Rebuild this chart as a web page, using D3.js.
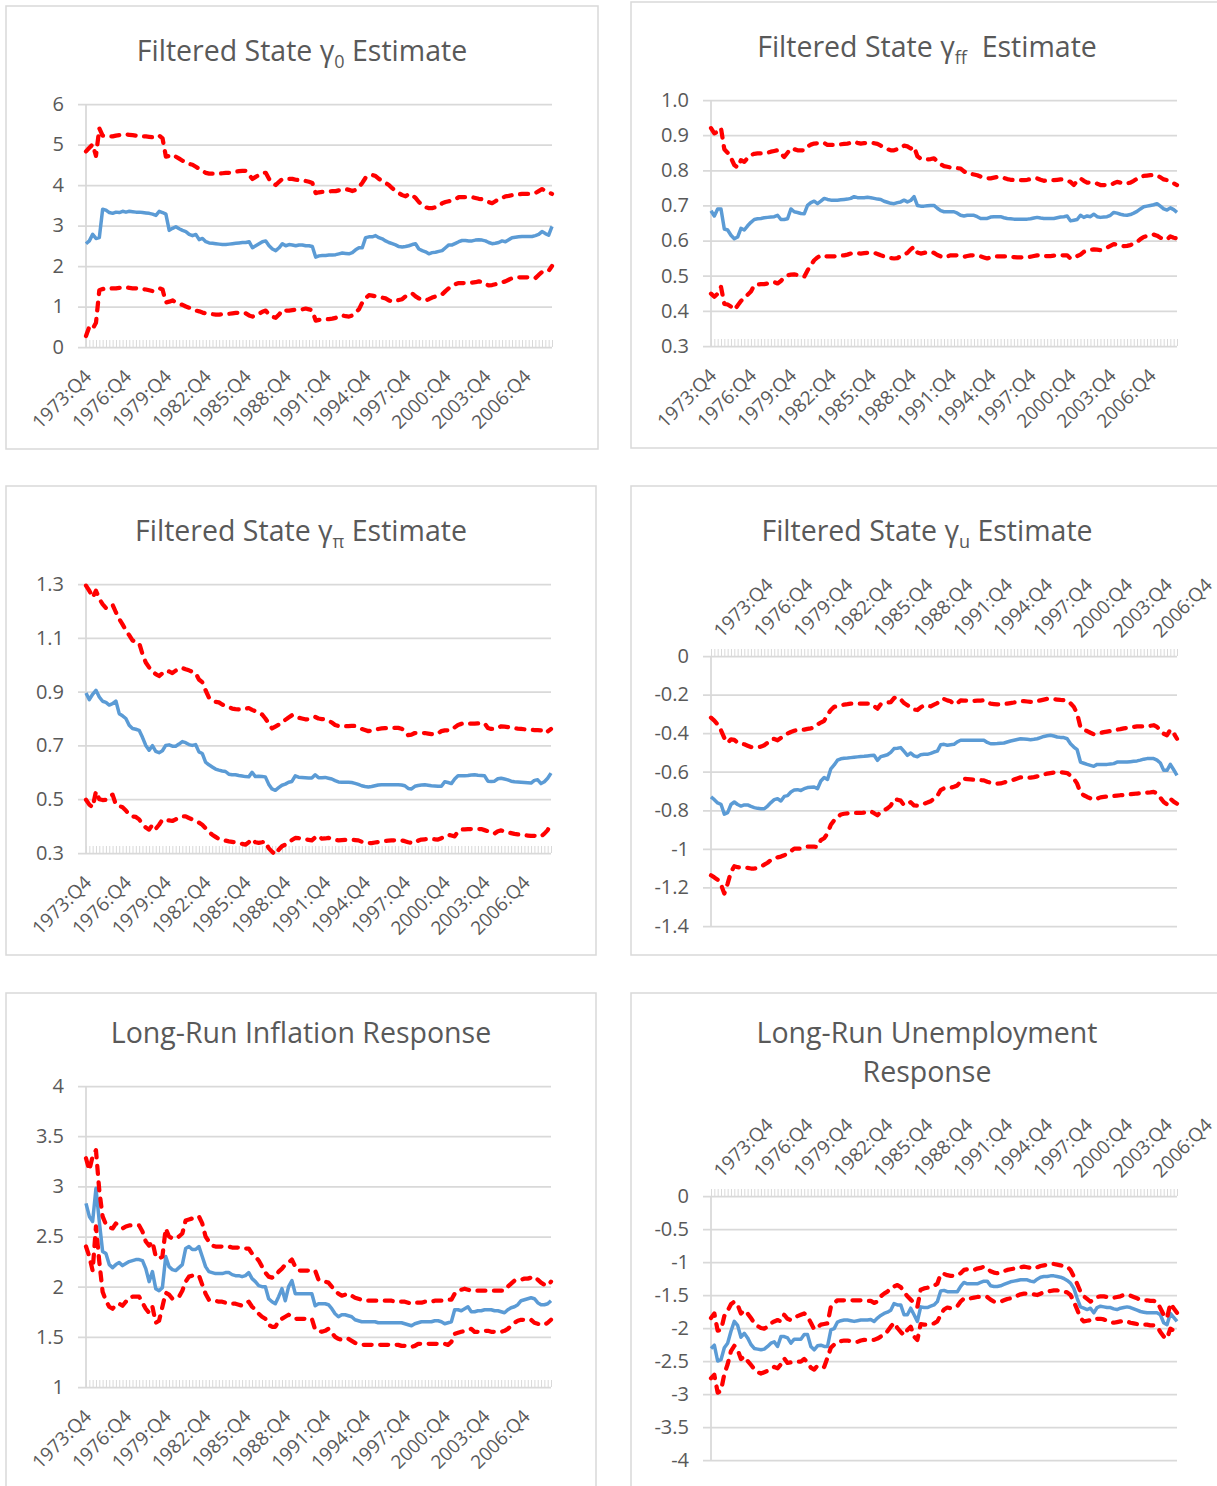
<!DOCTYPE html>
<html>
<head>
<meta charset="utf-8">
<script src="https://cdn.jsdelivr.net/npm/d3@7"></script>
<style>
	body { margin: 0; background: #fff; }
	svg { display: block; }
	text { font-family: "Open Sans", "Noto Sans", sans-serif; fill: #595959; }
</style>
</head>
<body>
<div id="canvas"></div>
<script>
// quarterly categories 1973:Q4 .. 2008:Q4 (141 points), label every 12th quarter
const N = 141;
const xTickLabels = ["1973:Q4","1976:Q4","1979:Q4","1982:Q4","1985:Q4","1988:Q4","1991:Q4","1994:Q4","1997:Q4","2000:Q4","2003:Q4","2006:Q4"];

// gamma_0
const g0Mid = [2.55,2.62,2.78,2.68,2.70,3.40,3.38,3.32,3.30,3.33,3.32,3.35,3.33,3.35,3.34,3.33,3.33,3.32,3.31,3.30,3.28,3.25,3.35,3.32,3.28,2.88,2.93,2.97,2.92,2.88,2.85,2.78,2.75,2.78,2.65,2.68,2.60,2.57,2.56,2.55,2.54,2.53,2.53,2.54,2.55,2.56,2.57,2.58,2.58,2.60,2.45,2.50,2.55,2.60,2.62,2.50,2.42,2.38,2.45,2.55,2.50,2.53,2.52,2.50,2.52,2.52,2.50,2.50,2.48,2.22,2.25,2.26,2.26,2.27,2.27,2.28,2.30,2.32,2.31,2.30,2.33,2.40,2.45,2.45,2.70,2.72,2.72,2.75,2.70,2.67,2.62,2.58,2.55,2.52,2.48,2.47,2.48,2.50,2.53,2.55,2.42,2.38,2.35,2.30,2.33,2.34,2.36,2.38,2.45,2.52,2.52,2.56,2.60,2.63,2.63,2.62,2.62,2.64,2.65,2.64,2.62,2.58,2.55,2.56,2.58,2.62,2.60,2.65,2.70,2.71,2.72,2.73,2.73,2.73,2.73,2.75,2.78,2.85,2.80,2.76,2.98];
const g0Hi = [4.83,4.92,5.00,4.72,5.40,5.22,5.20,5.20,5.20,5.22,5.23,5.25,5.25,5.24,5.23,5.22,5.22,5.20,5.20,5.19,5.18,5.18,5.22,5.15,4.70,4.72,4.75,4.70,4.65,4.60,4.55,4.52,4.50,4.45,4.40,4.35,4.30,4.28,4.28,4.28,4.28,4.29,4.30,4.30,4.32,4.33,4.34,4.35,4.35,4.25,4.15,4.20,4.25,4.30,4.30,4.15,4.05,4.00,4.08,4.15,4.15,4.15,4.15,4.13,4.12,4.12,4.10,4.08,4.05,3.80,3.82,3.83,3.83,3.84,3.85,3.85,3.87,3.88,3.90,3.88,3.85,3.88,3.95,4.05,4.18,4.22,4.25,4.22,4.15,4.10,4.05,4.00,3.92,3.85,3.80,3.75,3.72,3.78,3.75,3.68,3.58,3.50,3.45,3.43,3.43,3.45,3.48,3.55,3.58,3.60,3.62,3.65,3.70,3.70,3.70,3.70,3.70,3.68,3.66,3.65,3.62,3.58,3.55,3.60,3.65,3.68,3.72,3.73,3.75,3.76,3.77,3.78,3.78,3.78,3.79,3.80,3.85,3.90,3.85,3.82,3.78];
const g0Lo = [0.27,0.50,0.45,0.60,1.40,1.43,1.45,1.44,1.45,1.45,1.46,1.47,1.47,1.46,1.45,1.45,1.44,1.43,1.42,1.40,1.38,1.42,1.45,1.42,1.10,1.12,1.15,1.10,1.06,1.04,1.00,0.97,0.93,0.90,0.88,0.85,0.83,0.82,0.81,0.80,0.80,0.81,0.81,0.82,0.83,0.84,0.85,0.85,0.83,0.78,0.75,0.80,0.82,0.87,0.90,0.80,0.75,0.72,0.80,0.92,0.90,0.90,0.91,0.92,0.92,0.93,0.95,0.93,0.90,0.65,0.67,0.68,0.68,0.69,0.70,0.72,0.76,0.78,0.76,0.75,0.78,0.85,0.93,1.10,1.20,1.28,1.27,1.25,1.24,1.22,1.20,1.15,1.12,1.14,1.16,1.18,1.25,1.30,1.32,1.25,1.20,1.18,1.15,1.18,1.22,1.25,1.28,1.30,1.38,1.45,1.50,1.55,1.58,1.58,1.58,1.58,1.59,1.60,1.62,1.60,1.55,1.52,1.53,1.55,1.57,1.60,1.62,1.66,1.70,1.71,1.72,1.72,1.72,1.72,1.71,1.70,1.78,1.85,1.85,1.88,2.00];

// gamma_ff
const gffMid = [0.685,0.670,0.690,0.690,0.633,0.630,0.615,0.605,0.610,0.635,0.630,0.642,0.652,0.660,0.662,0.663,0.665,0.666,0.667,0.668,0.672,0.660,0.660,0.662,0.690,0.682,0.680,0.677,0.676,0.700,0.708,0.712,0.705,0.712,0.720,0.717,0.715,0.715,0.715,0.716,0.717,0.718,0.720,0.725,0.722,0.722,0.722,0.723,0.722,0.720,0.718,0.717,0.712,0.709,0.706,0.705,0.708,0.710,0.715,0.710,0.714,0.725,0.700,0.698,0.698,0.699,0.700,0.700,0.692,0.685,0.682,0.682,0.682,0.682,0.678,0.672,0.670,0.672,0.672,0.672,0.668,0.663,0.663,0.663,0.667,0.668,0.668,0.668,0.665,0.663,0.662,0.661,0.661,0.661,0.661,0.661,0.662,0.664,0.666,0.664,0.663,0.663,0.663,0.663,0.665,0.667,0.668,0.670,0.656,0.658,0.660,0.672,0.666,0.670,0.668,0.675,0.668,0.666,0.667,0.668,0.672,0.680,0.678,0.675,0.673,0.672,0.674,0.678,0.683,0.690,0.696,0.698,0.700,0.702,0.705,0.698,0.690,0.687,0.693,0.688,0.680];
const gffHi = [0.920,0.905,0.910,0.920,0.860,0.850,0.835,0.815,0.808,0.829,0.824,0.835,0.843,0.847,0.848,0.848,0.848,0.850,0.853,0.855,0.857,0.848,0.838,0.850,0.862,0.860,0.857,0.857,0.857,0.868,0.873,0.876,0.877,0.878,0.878,0.872,0.872,0.872,0.873,0.874,0.875,0.876,0.878,0.881,0.878,0.876,0.877,0.878,0.878,0.877,0.875,0.870,0.864,0.860,0.857,0.857,0.860,0.862,0.870,0.868,0.862,0.867,0.840,0.833,0.831,0.831,0.832,0.834,0.825,0.817,0.812,0.810,0.808,0.807,0.806,0.805,0.797,0.791,0.790,0.788,0.786,0.782,0.778,0.777,0.777,0.779,0.781,0.781,0.778,0.775,0.773,0.772,0.772,0.772,0.772,0.773,0.775,0.776,0.777,0.773,0.770,0.771,0.772,0.772,0.773,0.774,0.774,0.770,0.767,0.758,0.770,0.777,0.770,0.765,0.765,0.765,0.762,0.758,0.758,0.758,0.758,0.763,0.767,0.765,0.762,0.763,0.765,0.770,0.776,0.781,0.784,0.785,0.786,0.786,0.786,0.780,0.774,0.772,0.768,0.763,0.758];
const gffLo = [0.449,0.440,0.449,0.468,0.420,0.418,0.412,0.403,0.415,0.428,0.437,0.446,0.455,0.473,0.475,0.476,0.476,0.478,0.480,0.482,0.478,0.485,0.495,0.501,0.503,0.504,0.502,0.500,0.497,0.515,0.530,0.544,0.552,0.558,0.556,0.555,0.555,0.555,0.556,0.557,0.558,0.560,0.563,0.565,0.564,0.563,0.564,0.565,0.565,0.565,0.562,0.558,0.555,0.552,0.550,0.549,0.550,0.556,0.560,0.565,0.575,0.582,0.566,0.563,0.565,0.567,0.568,0.565,0.559,0.555,0.552,0.555,0.558,0.558,0.558,0.556,0.554,0.556,0.558,0.558,0.556,0.555,0.552,0.549,0.552,0.555,0.555,0.555,0.555,0.555,0.554,0.553,0.552,0.552,0.553,0.553,0.554,0.556,0.558,0.557,0.555,0.556,0.556,0.557,0.558,0.558,0.558,0.558,0.549,0.552,0.556,0.560,0.568,0.572,0.574,0.575,0.574,0.573,0.575,0.580,0.585,0.590,0.588,0.585,0.584,0.585,0.587,0.592,0.596,0.604,0.610,0.613,0.615,0.617,0.614,0.608,0.605,0.603,0.612,0.608,0.606];

// gamma_pi
const gpiMid = [0.895,0.870,0.890,0.905,0.880,0.864,0.860,0.850,0.855,0.865,0.818,0.810,0.800,0.775,0.763,0.760,0.756,0.730,0.700,0.682,0.699,0.678,0.673,0.680,0.700,0.702,0.697,0.697,0.705,0.714,0.710,0.703,0.700,0.703,0.676,0.670,0.638,0.628,0.620,0.612,0.608,0.605,0.603,0.593,0.591,0.591,0.588,0.586,0.584,0.583,0.600,0.584,0.585,0.584,0.583,0.556,0.538,0.533,0.543,0.552,0.556,0.563,0.566,0.587,0.582,0.581,0.580,0.579,0.579,0.591,0.580,0.580,0.581,0.578,0.575,0.569,0.564,0.563,0.563,0.563,0.562,0.559,0.555,0.550,0.547,0.545,0.547,0.550,0.553,0.554,0.554,0.554,0.554,0.554,0.554,0.553,0.550,0.540,0.538,0.548,0.551,0.553,0.554,0.552,0.550,0.549,0.548,0.548,0.565,0.562,0.558,0.575,0.587,0.587,0.587,0.588,0.590,0.591,0.589,0.588,0.587,0.567,0.566,0.567,0.576,0.578,0.575,0.572,0.567,0.565,0.564,0.563,0.562,0.561,0.560,0.570,0.572,0.558,0.565,0.578,0.597];
const gpiHi = [1.294,1.275,1.250,1.275,1.245,1.225,1.211,1.215,1.223,1.195,1.170,1.150,1.128,1.110,1.090,1.085,1.081,1.040,1.008,0.990,0.975,0.965,0.958,0.968,0.978,0.975,0.969,0.978,0.985,0.988,0.983,0.979,0.974,0.969,0.945,0.935,0.905,0.878,0.866,0.862,0.860,0.852,0.846,0.842,0.837,0.835,0.834,0.833,0.836,0.839,0.832,0.827,0.822,0.815,0.800,0.782,0.763,0.770,0.777,0.786,0.795,0.804,0.812,0.812,0.803,0.800,0.797,0.797,0.802,0.806,0.800,0.798,0.796,0.793,0.785,0.776,0.772,0.771,0.771,0.772,0.773,0.772,0.767,0.761,0.757,0.753,0.756,0.759,0.761,0.763,0.764,0.765,0.765,0.765,0.765,0.762,0.756,0.738,0.740,0.746,0.746,0.746,0.746,0.744,0.742,0.740,0.745,0.753,0.756,0.756,0.756,0.767,0.776,0.780,0.783,0.782,0.781,0.781,0.782,0.783,0.782,0.765,0.761,0.761,0.766,0.771,0.770,0.768,0.766,0.764,0.762,0.761,0.760,0.759,0.758,0.757,0.757,0.756,0.746,0.752,0.761];
const gpiLo = [0.498,0.480,0.470,0.529,0.500,0.497,0.498,0.510,0.517,0.480,0.475,0.470,0.458,0.442,0.436,0.434,0.425,0.407,0.395,0.387,0.405,0.390,0.405,0.424,0.422,0.421,0.419,0.425,0.433,0.436,0.436,0.430,0.425,0.419,0.413,0.405,0.392,0.378,0.368,0.360,0.352,0.349,0.346,0.343,0.341,0.339,0.337,0.334,0.331,0.340,0.352,0.340,0.338,0.340,0.343,0.318,0.305,0.294,0.312,0.325,0.331,0.340,0.348,0.356,0.355,0.353,0.351,0.349,0.347,0.358,0.364,0.353,0.354,0.356,0.353,0.349,0.347,0.348,0.349,0.350,0.349,0.348,0.347,0.342,0.338,0.337,0.337,0.339,0.341,0.343,0.345,0.346,0.347,0.347,0.347,0.347,0.344,0.340,0.338,0.337,0.346,0.350,0.351,0.352,0.352,0.351,0.350,0.355,0.362,0.368,0.365,0.362,0.380,0.387,0.388,0.389,0.389,0.389,0.389,0.389,0.385,0.381,0.376,0.372,0.381,0.384,0.380,0.377,0.374,0.371,0.369,0.368,0.366,0.365,0.364,0.364,0.364,0.362,0.372,0.385,0.409];

// gamma_u
const guMid = [-0.731,-0.745,-0.762,-0.769,-0.820,-0.812,-0.770,-0.757,-0.770,-0.778,-0.772,-0.772,-0.780,-0.786,-0.790,-0.792,-0.792,-0.778,-0.760,-0.745,-0.740,-0.752,-0.728,-0.724,-0.705,-0.695,-0.693,-0.697,-0.688,-0.682,-0.680,-0.679,-0.688,-0.648,-0.630,-0.640,-0.585,-0.565,-0.540,-0.533,-0.530,-0.529,-0.527,-0.525,-0.523,-0.521,-0.520,-0.518,-0.516,-0.515,-0.541,-0.522,-0.517,-0.512,-0.500,-0.480,-0.478,-0.475,-0.495,-0.515,-0.503,-0.518,-0.522,-0.512,-0.510,-0.510,-0.505,-0.498,-0.493,-0.460,-0.458,-0.463,-0.460,-0.458,-0.445,-0.437,-0.437,-0.437,-0.437,-0.437,-0.437,-0.437,-0.437,-0.448,-0.455,-0.455,-0.454,-0.452,-0.451,-0.446,-0.441,-0.437,-0.433,-0.429,-0.430,-0.432,-0.434,-0.432,-0.429,-0.423,-0.417,-0.414,-0.411,-0.415,-0.420,-0.422,-0.423,-0.429,-0.455,-0.472,-0.486,-0.550,-0.556,-0.562,-0.567,-0.572,-0.562,-0.562,-0.562,-0.562,-0.560,-0.558,-0.550,-0.550,-0.550,-0.550,-0.548,-0.546,-0.544,-0.540,-0.535,-0.532,-0.532,-0.532,-0.540,-0.555,-0.593,-0.593,-0.562,-0.590,-0.619];
const guHi = [-0.320,-0.335,-0.355,-0.385,-0.425,-0.450,-0.432,-0.435,-0.450,-0.455,-0.458,-0.465,-0.472,-0.472,-0.472,-0.470,-0.463,-0.450,-0.432,-0.430,-0.437,-0.425,-0.413,-0.402,-0.394,-0.388,-0.382,-0.382,-0.382,-0.378,-0.375,-0.370,-0.355,-0.345,-0.336,-0.305,-0.280,-0.264,-0.260,-0.256,-0.252,-0.250,-0.247,-0.247,-0.247,-0.247,-0.247,-0.247,-0.247,-0.260,-0.273,-0.250,-0.244,-0.242,-0.239,-0.218,-0.213,-0.225,-0.244,-0.255,-0.264,-0.278,-0.280,-0.266,-0.256,-0.258,-0.261,-0.252,-0.244,-0.225,-0.223,-0.230,-0.235,-0.250,-0.245,-0.230,-0.231,-0.232,-0.233,-0.233,-0.232,-0.231,-0.230,-0.240,-0.247,-0.249,-0.251,-0.251,-0.249,-0.247,-0.244,-0.241,-0.237,-0.234,-0.234,-0.236,-0.238,-0.239,-0.234,-0.230,-0.226,-0.222,-0.221,-0.224,-0.226,-0.228,-0.229,-0.230,-0.245,-0.264,-0.299,-0.370,-0.383,-0.389,-0.398,-0.406,-0.402,-0.399,-0.395,-0.392,-0.389,-0.386,-0.382,-0.379,-0.375,-0.373,-0.370,-0.368,-0.365,-0.365,-0.365,-0.364,-0.362,-0.359,-0.368,-0.385,-0.403,-0.411,-0.382,-0.400,-0.429];
const guLo = [-1.137,-1.148,-1.160,-1.185,-1.232,-1.180,-1.120,-1.090,-1.095,-1.097,-1.097,-1.099,-1.102,-1.102,-1.099,-1.092,-1.082,-1.072,-1.058,-1.050,-1.044,-1.040,-1.033,-1.025,-1.012,-0.999,-0.999,-0.999,-0.995,-0.989,-0.988,-0.989,-0.990,-0.955,-0.945,-0.920,-0.875,-0.852,-0.835,-0.822,-0.818,-0.816,-0.814,-0.814,-0.814,-0.814,-0.812,-0.808,-0.805,-0.815,-0.826,-0.808,-0.800,-0.790,-0.776,-0.742,-0.745,-0.750,-0.774,-0.766,-0.758,-0.775,-0.776,-0.770,-0.766,-0.760,-0.753,-0.740,-0.725,-0.695,-0.686,-0.684,-0.683,-0.678,-0.671,-0.650,-0.636,-0.638,-0.640,-0.642,-0.643,-0.644,-0.645,-0.652,-0.657,-0.660,-0.662,-0.661,-0.656,-0.651,-0.646,-0.641,-0.635,-0.629,-0.628,-0.630,-0.631,-0.628,-0.624,-0.620,-0.614,-0.610,-0.607,-0.604,-0.601,-0.603,-0.605,-0.607,-0.620,-0.636,-0.662,-0.710,-0.722,-0.731,-0.738,-0.745,-0.740,-0.733,-0.731,-0.729,-0.728,-0.726,-0.724,-0.722,-0.721,-0.719,-0.717,-0.715,-0.713,-0.712,-0.710,-0.708,-0.707,-0.705,-0.712,-0.735,-0.757,-0.769,-0.740,-0.755,-0.766];

// long-run inflation response
const lrpiMid = [2.83,2.70,2.65,2.98,2.65,2.35,2.33,2.22,2.19,2.22,2.24,2.21,2.23,2.25,2.26,2.27,2.27,2.26,2.18,2.05,2.15,1.98,1.96,1.99,2.30,2.20,2.17,2.16,2.19,2.22,2.38,2.40,2.37,2.37,2.40,2.30,2.20,2.15,2.14,2.13,2.13,2.13,2.14,2.14,2.12,2.11,2.11,2.10,2.11,2.14,2.08,2.05,2.01,2.00,2.00,1.88,1.85,1.83,1.90,1.98,1.86,2.00,2.06,1.93,1.93,1.93,1.93,1.93,1.93,1.81,1.83,1.83,1.83,1.82,1.78,1.73,1.70,1.72,1.72,1.71,1.70,1.67,1.66,1.65,1.65,1.65,1.65,1.65,1.64,1.64,1.64,1.64,1.64,1.64,1.64,1.64,1.63,1.62,1.61,1.63,1.64,1.65,1.65,1.65,1.65,1.66,1.66,1.65,1.63,1.64,1.65,1.77,1.77,1.76,1.78,1.80,1.75,1.75,1.76,1.76,1.77,1.77,1.77,1.76,1.76,1.75,1.74,1.77,1.79,1.80,1.82,1.86,1.87,1.88,1.89,1.88,1.84,1.82,1.82,1.83,1.86];
const lrpiHi = [3.28,3.16,3.30,3.36,2.96,2.70,2.62,2.59,2.58,2.63,2.60,2.58,2.60,2.61,2.61,2.61,2.61,2.55,2.45,2.41,2.45,2.30,2.28,2.30,2.58,2.50,2.48,2.48,2.50,2.53,2.66,2.67,2.68,2.69,2.70,2.63,2.50,2.45,2.41,2.40,2.40,2.40,2.40,2.40,2.39,2.39,2.39,2.38,2.38,2.38,2.33,2.30,2.26,2.20,2.14,2.10,2.09,2.10,2.15,2.18,2.22,2.24,2.27,2.20,2.16,2.16,2.16,2.16,2.16,2.16,2.07,2.06,2.05,2.04,2.00,1.96,1.93,1.91,1.92,1.93,1.91,1.89,1.88,1.87,1.86,1.86,1.86,1.86,1.86,1.86,1.86,1.86,1.86,1.85,1.85,1.85,1.85,1.84,1.83,1.84,1.84,1.84,1.85,1.85,1.85,1.86,1.86,1.86,1.87,1.87,1.87,1.93,1.96,1.97,1.98,1.97,1.96,1.96,1.96,1.96,1.96,1.96,1.96,1.96,1.96,1.96,1.96,2.00,2.03,2.06,2.07,2.07,2.08,2.08,2.09,2.10,2.07,2.04,2.02,2.01,2.05];
const lrpiLo = [2.40,2.30,2.16,2.60,2.25,1.95,1.86,1.80,1.78,1.82,1.83,1.81,1.85,1.89,1.90,1.90,1.90,1.84,1.78,1.74,1.80,1.64,1.66,1.80,1.94,1.92,1.88,1.89,1.90,1.96,2.05,2.10,2.11,2.11,2.11,2.02,1.93,1.87,1.86,1.86,1.85,1.85,1.84,1.84,1.83,1.83,1.82,1.81,1.83,1.85,1.80,1.77,1.73,1.70,1.68,1.62,1.60,1.60,1.66,1.68,1.70,1.72,1.70,1.68,1.68,1.68,1.68,1.68,1.68,1.57,1.56,1.55,1.56,1.58,1.54,1.50,1.48,1.47,1.48,1.48,1.46,1.44,1.43,1.42,1.42,1.42,1.42,1.42,1.42,1.42,1.42,1.42,1.42,1.42,1.42,1.41,1.41,1.41,1.40,1.41,1.43,1.43,1.43,1.43,1.43,1.43,1.43,1.43,1.43,1.42,1.45,1.53,1.54,1.55,1.56,1.57,1.58,1.55,1.55,1.56,1.56,1.56,1.55,1.55,1.55,1.55,1.56,1.58,1.61,1.64,1.66,1.67,1.67,1.67,1.67,1.64,1.63,1.62,1.62,1.64,1.67];

// long-run unemployment response
const lruMid = [-2.31,-2.26,-2.50,-2.48,-2.30,-2.23,-2.05,-1.90,-1.96,-2.14,-2.08,-2.15,-2.25,-2.31,-2.32,-2.33,-2.32,-2.28,-2.23,-2.21,-2.28,-2.13,-2.13,-2.15,-2.23,-2.17,-2.17,-2.17,-2.10,-2.10,-2.28,-2.33,-2.27,-2.26,-2.28,-2.28,-2.03,-2.01,-1.91,-1.89,-1.88,-1.88,-1.89,-1.90,-1.89,-1.88,-1.88,-1.88,-1.87,-1.90,-1.85,-1.81,-1.78,-1.76,-1.73,-1.63,-1.65,-1.65,-1.80,-1.80,-1.70,-1.80,-1.90,-1.68,-1.69,-1.69,-1.67,-1.65,-1.60,-1.44,-1.43,-1.45,-1.45,-1.45,-1.45,-1.37,-1.31,-1.33,-1.33,-1.33,-1.33,-1.31,-1.29,-1.29,-1.36,-1.37,-1.37,-1.36,-1.34,-1.32,-1.30,-1.29,-1.28,-1.27,-1.27,-1.27,-1.29,-1.30,-1.26,-1.23,-1.22,-1.22,-1.21,-1.21,-1.22,-1.23,-1.25,-1.28,-1.32,-1.40,-1.55,-1.68,-1.70,-1.72,-1.70,-1.77,-1.69,-1.67,-1.68,-1.69,-1.69,-1.71,-1.72,-1.70,-1.69,-1.68,-1.69,-1.71,-1.73,-1.75,-1.76,-1.77,-1.77,-1.77,-1.77,-1.80,-1.92,-1.95,-1.78,-1.84,-1.90];
const lruHi = [-1.85,-1.78,-2.04,-2.03,-1.82,-1.74,-1.64,-1.60,-1.65,-1.78,-1.73,-1.78,-1.85,-1.92,-1.97,-2.00,-2.01,-1.98,-1.93,-1.90,-1.88,-1.90,-1.80,-1.86,-1.88,-1.85,-1.82,-1.80,-1.78,-1.83,-1.92,-2.02,-1.99,-1.95,-1.94,-1.93,-1.68,-1.62,-1.58,-1.58,-1.58,-1.58,-1.58,-1.58,-1.58,-1.58,-1.58,-1.59,-1.59,-1.62,-1.60,-1.52,-1.48,-1.45,-1.39,-1.37,-1.35,-1.38,-1.45,-1.52,-1.57,-1.62,-1.68,-1.42,-1.40,-1.39,-1.38,-1.36,-1.33,-1.18,-1.18,-1.20,-1.21,-1.21,-1.20,-1.17,-1.12,-1.11,-1.12,-1.12,-1.10,-1.09,-1.07,-1.10,-1.14,-1.16,-1.17,-1.16,-1.14,-1.12,-1.11,-1.10,-1.09,-1.08,-1.07,-1.08,-1.09,-1.10,-1.08,-1.06,-1.05,-1.04,-1.03,-1.03,-1.04,-1.05,-1.06,-1.07,-1.12,-1.22,-1.33,-1.45,-1.52,-1.56,-1.60,-1.57,-1.53,-1.52,-1.52,-1.53,-1.54,-1.54,-1.53,-1.52,-1.50,-1.50,-1.51,-1.53,-1.55,-1.57,-1.58,-1.58,-1.59,-1.59,-1.60,-1.70,-1.80,-1.85,-1.63,-1.70,-1.77];
const lruLo = [-2.76,-2.71,-2.98,-2.95,-2.70,-2.55,-2.35,-2.27,-2.33,-2.47,-2.43,-2.50,-2.56,-2.62,-2.67,-2.69,-2.67,-2.65,-2.62,-2.59,-2.61,-2.55,-2.46,-2.53,-2.52,-2.51,-2.51,-2.51,-2.47,-2.52,-2.60,-2.63,-2.57,-2.57,-2.59,-2.45,-2.30,-2.25,-2.21,-2.20,-2.19,-2.19,-2.20,-2.21,-2.21,-2.19,-2.18,-2.18,-2.18,-2.18,-2.16,-2.13,-2.11,-2.05,-1.98,-1.92,-2.00,-2.06,-2.11,-2.03,-1.98,-2.13,-2.18,-1.94,-1.95,-1.95,-1.94,-1.93,-1.90,-1.80,-1.72,-1.69,-1.70,-1.69,-1.67,-1.60,-1.55,-1.55,-1.55,-1.54,-1.53,-1.53,-1.53,-1.53,-1.57,-1.60,-1.60,-1.60,-1.58,-1.56,-1.55,-1.53,-1.51,-1.49,-1.48,-1.48,-1.48,-1.49,-1.50,-1.48,-1.46,-1.45,-1.44,-1.43,-1.43,-1.44,-1.45,-1.46,-1.50,-1.60,-1.72,-1.85,-1.90,-1.89,-1.88,-1.85,-1.86,-1.86,-1.87,-1.89,-1.91,-1.92,-1.91,-1.90,-1.89,-1.90,-1.92,-1.93,-1.94,-1.94,-1.95,-1.95,-1.96,-1.96,-1.97,-2.06,-2.13,-2.16,-2.01,-2.04,-2.08];

// y tick values per chart
const yTicks0 = [0,1,2,3,4,5,6];
const yTicksFF = [0.3,0.4,0.5,0.6,0.7,0.8,0.9,1.0];
const yTicksPi = [0.3,0.5,0.7,0.9,1.1,1.3];
const yTicksU = [0,-0.2,-0.4,-0.6,-0.8,-1,-1.2,-1.4];
const yTicksLrPi = [1,1.5,2,2.5,3,3.5,4];
const yTicksLrU = [0,-0.5,-1,-1.5,-2,-2.5,-3,-3.5,-4];

const W = 1217, H = 1486;

const panels = [
	{box:[6,6,592,443], x0:86, x1:552, yTop:104, yBot:347, dom:[0,6], ticks:yTicks0, fmt:d => String(d), axis:'bottom',
		title:[[{t:'Filtered State γ'},{t:'0',sub:true},{t:' Estimate'}]], tx:302, ty:[61], s:[g0Mid,g0Hi,g0Lo]},
	{box:[631,2,620,446], x0:711, x1:1177, yTop:100, yBot:346, dom:[0.3,1.0], ticks:yTicksFF, fmt:d => d.toFixed(1), axis:'bottom',
		title:[[{t:'Filtered State γ'},{t:'ff',sub:true},{t:'  Estimate'}]], tx:927, ty:[57], s:[gffMid,gffHi,gffLo]},
	{box:[6,486,590,469], x0:86, x1:551, yTop:584, yBot:853, dom:[0.3,1.3], ticks:yTicksPi, fmt:d => d.toFixed(1), axis:'bottom',
		title:[[{t:'Filtered State γ'},{t:'π',sub:true},{t:' Estimate'}]], tx:301, ty:[541], s:[gpiMid,gpiHi,gpiLo]},
	{box:[631,486,620,469], x0:711, x1:1177, yTop:656, yBot:926, dom:[-1.4,0], ticks:yTicksU, fmt:d => String(d), axis:'top',
		title:[[{t:'Filtered State γ'},{t:'u',sub:true},{t:' Estimate'}]], tx:927, ty:[541], s:[guMid,guHi,guLo]},
	{box:[6,993,590,520], x0:86, x1:551, yTop:1086, yBot:1387, dom:[1,4], ticks:yTicksLrPi, fmt:d => String(d), axis:'bottom',
		title:[[{t:'Long-Run Inflation Response'}]], tx:301, ty:[1043], s:[lrpiMid,lrpiHi,lrpiLo]},
	{box:[631,993,620,520], x0:711, x1:1177, yTop:1196, yBot:1460, dom:[-4,0], ticks:yTicksLrU, fmt:d => String(d), axis:'top',
		title:[[{t:'Long-Run Unemployment'}],[{t:'Response'}]], tx:927, ty:[1043,1082], s:[lruMid,lruHi,lruLo]}
];

const GRID = '#d9d9d9', BLUE = '#5b9bd5', RED = '#ff0000';

const svg = d3.select('#canvas').append('svg')
	.attr('width', W)
	.attr('height', H);

function drawPanel(p){
	const g = svg.append('g').attr('class','panel');

	// chart frame
	g.append('rect')
		.attr('x', p.box[0]).attr('y', p.box[1])
		.attr('width', p.box[2]).attr('height', p.box[3])
		.attr('fill', '#fff').attr('stroke', GRID).attr('stroke-width', 1.5);

	const x = d3.scaleLinear().domain([0, N-1]).range([p.x0, p.x1]);
	const y = d3.scaleLinear().domain(p.dom).range([p.yBot, p.yTop]);
	const gx0 = p.x0 - 8; // gridlines start a bit left of the value axis

	// horizontal gridlines
	const grid = g.append('g').attr('class','grid')
		.attr('transform','translate('+gx0+',0)')
		.call(d3.axisLeft(y).tickValues(p.ticks).tickSize(-(p.x1 - gx0)).tickFormat(''));
	grid.select('.domain').remove();
	grid.selectAll('line').attr('stroke', GRID).attr('stroke-width', 1.75);

	// value axis line
	g.append('line')
		.attr('x1', p.x0).attr('x2', p.x0)
		.attr('y1', p.yTop).attr('y2', p.yBot)
		.attr('stroke', GRID).attr('stroke-width', 1.75);

	// value labels
	const ya = g.append('g')
		.attr('transform','translate('+p.x0+',0)')
		.call(d3.axisLeft(y).tickValues(p.ticks).tickSize(0).tickPadding(22).tickFormat(p.fmt));
	ya.select('.domain').remove();
	ya.selectAll('text')
		.attr('font-family', null)
		.style('font-size', '20px')
		.attr('fill', '#595959');

	// category axis: a tick for every quarter
	const axisY = p.axis === 'top' ? p.yTop : p.yBot;
	const xa = g.append('g')
		.attr('transform','translate(0,'+axisY+')')
		.call(d3.axisBottom(x).tickValues(d3.range(N)).tickSize(-7).tickSizeOuter(0).tickFormat(''));
	xa.select('.domain').remove();
	xa.selectAll('line').attr('stroke', GRID).attr('stroke-width', 1);

	// category labels every 12 quarters, rotated
	const lab = g.append('g').attr('class','xlabels');
	lab.selectAll('text')
		.data(xTickLabels)
		.enter()
		.append('text')
		.attr('transform', (d,k) => p.axis === 'top'
			? 'translate('+(x(k*12)+6)+','+(axisY-22)+') rotate(-45)'
			: 'translate('+(x(k*12)+2)+','+(axisY+26)+') rotate(-45)')
		.attr('text-anchor', p.axis === 'top' ? 'start' : 'end')
		.attr('dy', '0.35em')
		.style('font-size', '19px')
		.text(d => d);

	// series: estimate (blue) then bands (red dashed)
	const line = d3.line().x((d,i) => x(i)).y(d => y(d));
	g.append('path').datum(p.s[0])
		.attr('d', line).attr('fill','none')
		.attr('stroke', BLUE).attr('stroke-width', 3.5)
		.attr('stroke-linejoin','round');
	p.s.slice(1).forEach(band => {
		g.append('path').datum(band)
			.attr('d', line).attr('fill','none')
			.attr('stroke', RED).attr('stroke-width', 4.25)
			.attr('stroke-dasharray', '8,8.5')
			.attr('stroke-linecap','round')
			.attr('stroke-linejoin','round');
	});

	// title (with subscripts)
	p.title.forEach((parts, li) => {
		const t = g.append('text')
			.attr('x', p.tx).attr('y', p.ty[li])
			.attr('text-anchor','middle')
			.style('font-size','28.5px')
			.style('white-space','pre');
		let shift = 0;
		parts.forEach(part => {
			const ts = t.append('tspan').text(part.t);
			if(part.sub){
				ts.style('font-size','18px').attr('dy', 7);
				shift = 7;
			} else if(shift){
				ts.attr('dy', -shift);
				shift = 0;
			}
		});
	});
}

panels.forEach(drawPanel);
</script>
</body>
</html>
